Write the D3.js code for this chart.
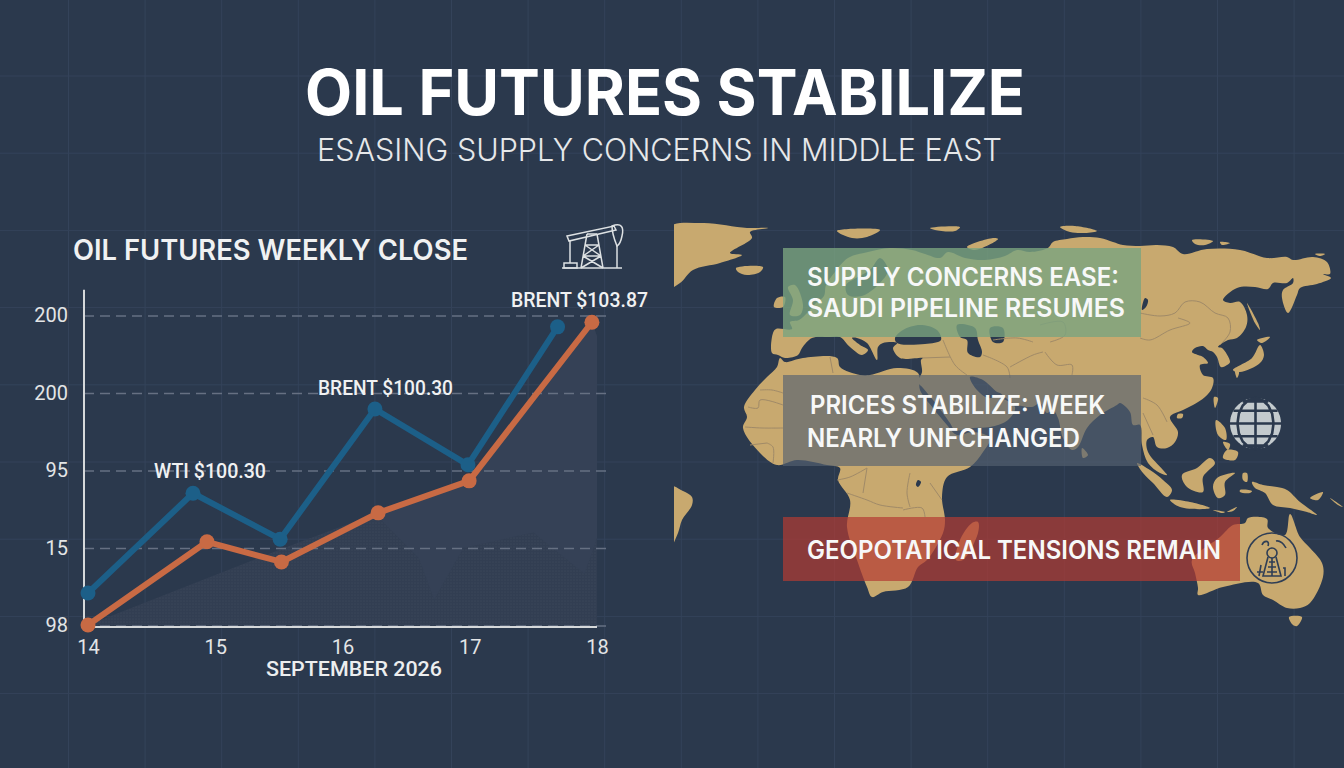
<!DOCTYPE html>
<html>
<head>
<meta charset="utf-8">
<style>
  html, body { margin: 0; padding: 0; background: #2b394d; }
  svg { display: block; }
</style>
<script src="https://cdn.jsdelivr.net/npm/d3@7"></script>
</head>
<body>
<svg id="chart" width="1344" height="768"></svg>
<script>
'use strict'

// chart data
const dayTicks = [14, 15, 16, 17, 18]
const priceTicks = [98, 99.5, 101, 102.5, 104]
const priceTickLabels = ['98', '15', '95', '200', '200']

const wtiDays = [14, 14.825, 15.51, 16.255, 16.986, 17.69]
const wtiPrices = [98.63, 100.56, 99.67, 102.19, 101.11, 103.78]
const brentDays = [14, 14.935, 15.52, 16.28, 16.995, 17.96]
const brentPrices = [98.01, 99.62, 99.23, 100.18, 100.8, 103.87]

const shadeDays = [14, 15.52, 16.28, 16.995, 17.96, 18]
const shadePrices = [98.01, 99.48, 100.18, 100.8, 103.87, 103.6]

// lighter band inside the shade: top edge and bottom edge
const bandDays = [16.28, 16.6, 16.72, 16.95, 17.5, 17.9, 17.96, 18]
const bandTops = [100.18, 100.45, 100.55, 100.73, 102.3, 103.6, 103.87, 103.6]
const bandBottoms = [100.1, 99.3, 98.5, 99.5, 99.8, 99, 99.4, 99.7]

const priceNotes = [
  { text: 'WTI $100.30', day: 14.825, price: 100.56 },
  { text: 'BRENT $100.30', day: 16.255, price: 102.19 },
  { text: 'BRENT $103.87', day: 17.96, price: 103.87 }
]

// map outlines, already projected onto the page
const landRings = [
  // eurasia
  [[773,333],[776,329],[792,329],[790,322],[799,320],[808,312],[816,303],[824,296],[826,285],[835,272],[848,258],[868,252],[890,248],[912,250],[925,254],[940,258],[948,252],[965,258],[985,260],[1005,256],[1017,250],[1030,252],[1048,248],[1053,242],[1067,239],[1083,237],[1100,238],[1113,242],[1123,245],[1140,246],[1157,245],[1173,247],[1183,254],[1207,249],[1240,250],[1267,258],[1287,257],[1293,260],[1313,257],[1327,262],[1330,274],[1323,274],[1331,278],[1317,284],[1300,288],[1297,295],[1288,313],[1282,298],[1283,290],[1293,283],[1293,278],[1287,283],[1273,283],[1268,289],[1255,287],[1237,288],[1223,300],[1230,303],[1240,302],[1247,315],[1246,327],[1237,338],[1228,340],[1218,347],[1222,348],[1230,362],[1227,365],[1221,367],[1217,357],[1213,352],[1208,350],[1203,346],[1195,348],[1192,352],[1198,355],[1203,357],[1208,363],[1200,365],[1203,375],[1213,378],[1212,388],[1205,397],[1193,405],[1183,410],[1170,417],[1178,432],[1175,442],[1167,448],[1157,447],[1153,437],[1147,440],[1148,452],[1163,470],[1167,475],[1160,473],[1148,463],[1142,445],[1140,425],[1133,425],[1130,412],[1120,403],[1117,405],[1100,415],[1087,428],[1078,447],[1072,450],[1063,438],[1058,418],[1053,410],[1047,413],[1040,403],[1032,407],[1013,403],[1000,393],[997,392],[983,380],[970,377],[977,390],[988,398],[997,397],[1015,407],[1008,420],[990,427],[973,428],[955,430],[950,423],[937,405],[923,388],[918,382],[922,372],[921,360],[923,358],[900,358],[893,348],[897,343],[883,343],[878,347],[877,360],[867,343],[857,338],[852,338],[860,345],[868,350],[862,355],[850,347],[840,337],[830,337],[812,338],[802,348],[798,355],[785,358],[778,355],[772,353]],
  // africa
  [[780,358],[785,362],[803,358],[837,358],[840,367],[860,375],[870,375],[897,368],[918,373],[920,390],[933,408],[947,425],[957,435],[973,432],[990,438],[983,452],[970,467],[947,477],[942,497],[945,520],[943,533],[927,560],[918,567],[908,587],[883,592],[872,597],[867,587],[857,560],[847,527],[850,500],[838,480],[840,468],[827,465],[797,460],[777,465],[760,453],[743,428],[747,417],[744,407],[755,390],[767,377],[777,367]],
  // madagascar, south america
  [[972,523],[978,522],[978,533],[963,560],[956,560],[960,540]],
  [[668,486],[683,491],[692,497],[692,505],[682,520],[678,533],[668,552]],
  // greenland, iceland, british isles
  [[668,228],[703,223],[747,228],[768,228],[750,232],[752,238],[730,253],[742,255],[720,263],[693,270],[680,283],[668,288]],
  [[736,268],[763,267],[760,272],[747,275],[738,272]],
  [[774,307],[777,298],[785,297],[783,307]],
  [[788,287],[795,285],[803,305],[800,315],[790,315],[793,300]],
  // arctic islands
  [[837,231],[880,230],[867,237],[852,238]],
  [[930,228],[960,227],[955,231],[935,230]],
  [[967,247],[993,238],[998,239],[975,250]],
  [[1060,227],[1075,226],[1097,231],[1085,233],[1070,232]],
  [[1192,240],[1213,241],[1205,245],[1195,244]],
  [[1220,242],[1230,243],[1222,245]],
  [[1315,254],[1325,254],[1320,256]],
  // east asia islands
  [[1247,303],[1258,323],[1260,330],[1255,323]],
  [[1257,340],[1270,337],[1262,343]],
  [[1260,345],[1264,355],[1260,363],[1240,372],[1233,370],[1252,358]],
  [[1235,370],[1239,372],[1237,378]],
  [[1214,397],[1218,398],[1215,408]],
  [[1178,414],[1183,414],[1182,418],[1177,418]],
  [[1082,448],[1088,455],[1083,458]],
  [[1216,420],[1225,428],[1226,440],[1218,435]],
  [[1227,450],[1238,452],[1235,460],[1223,458]],
  [[1223,442],[1230,444],[1228,450]],
  // indonesia and new guinea
  [[1137,463],[1150,470],[1163,480],[1172,490],[1167,497],[1153,483],[1143,473]],
  [[1210,458],[1215,463],[1203,477],[1203,492],[1187,487],[1182,475],[1197,468]],
  [[1217,478],[1235,473],[1225,482],[1225,495],[1218,498],[1213,487]],
  [[1170,500],[1190,502],[1210,508],[1205,509],[1180,507]],
  [[1213,510],[1225,512],[1222,513]],
  [[1227,512],[1237,507],[1233,511]],
  [[1243,473],[1247,473],[1247,482],[1243,480]],
  [[1240,490],[1252,491],[1250,493],[1240,492]],
  [[1252,482],[1263,485],[1277,487],[1287,490],[1300,502],[1317,515],[1307,512],[1290,508],[1273,505],[1265,493],[1255,488]],
  [[1310,498],[1323,492],[1318,500]],
  [[1330,498],[1343,507],[1338,505]],
  // australia, tasmania
  [[1195,573],[1192,560],[1220,537],[1233,525],[1245,523],[1248,518],[1267,519],[1268,528],[1285,535],[1290,514],[1300,537],[1310,548],[1322,563],[1323,577],[1310,603],[1300,608],[1287,608],[1273,600],[1263,595],[1258,583],[1223,587],[1198,595],[1198,588]],
  [[1289,617],[1302,617],[1297,626],[1293,625]]
]

const seaRings = [
  [[903,330],[920,325],[937,330],[941,340],[925,344],[897,343],[895,338]],
  [[957,325],[975,328],[978,340],[982,352],[980,357],[968,353],[967,340],[960,337]],
  [[990,328],[1003,328],[1003,342],[993,342]],
  [[846,285],[856,278],[870,270],[880,258],[888,270],[878,285],[862,296],[848,295]],
  [[1145,298],[1148,300],[1146,307],[1142,310]],
  [[918,480],[921,482],[918,487],[916,485]]
]

const borderLines = [
  [[830,357],[833,373]], [[760,390],[772,390],[783,393]], [[748,407],[758,408],[760,400],[783,405]],
  [[745,427],[762,428],[783,428]], [[767,443],[773,447],[773,463]], [[750,445],[767,443]],
  [[837,480],[850,477],[867,468]], [[847,493],[867,500],[880,505],[903,508]], [[903,510],[922,508],[925,517]],
  [[910,473],[907,493],[910,507]], [[930,483],[942,500]], [[867,468],[863,493]],
  [[943,340],[955,365],[967,375]], [[983,355],[1007,367],[1010,378]], [[1010,367],[1033,355],[1043,352]],
  [[1045,352],[1057,365],[1072,365],[1072,375]], [[1143,398],[1157,405],[1167,422]], [[1143,413],[1153,435]],
  [[922,358],[950,357]], [[1040,325],[1063,322],[1065,335],[1050,342]], [[993,340],[1017,338],[1033,342]],
  [[1140,313],[1160,316],[1175,313],[1185,302],[1200,302],[1215,313],[1228,318],[1230,332],[1220,345]],
  [[1140,338],[1150,340],[1170,330],[1190,323],[1178,318]]
]

const callouts = [
  { lines: ['SUPPLY CONCERNS EASE:', 'SAUDI PIPELINE RESUMES'], fill: '#7aa47f', opacity: 0.8, x: 783, y: 248, w: 358, h: 89,
    textX: [807, 807], textW: [312, 318], base: [286, 317] },
  { lines: ['PRICES STABILIZE: WEEK', 'NEARLY UNFCHANGED'], fill: '#556170', opacity: 0.65, x: 783, y: 375, w: 358, h: 91,
    textX: [810, 807], textW: [295, 273], base: [414, 447] },
  { lines: ['GEOPOTATICAL TENSIONS REMAIN'], fill: '#b33a32', opacity: 0.7, x: 783, y: 517, w: 457, h: 64,
    textX: [807], textW: [414], base: [559] }
]

const svg = d3.select('#chart')

function putText (parent, str, x, baseline, len, size, weight, family, fill) {
  return parent.append('text')
    .attr('x', x)
    .attr('y', baseline)
    .attr('textLength', len)
    .attr('lengthAdjust', 'spacingAndGlyphs')
    .attr('font-size', size)
    .attr('font-weight', weight)
    .attr('font-family', family)
    .attr('fill', fill)
    .text(str)
}

// background with its faint grid
svg.append('rect').attr('width', 1344).attr('height', 768).attr('fill', '#2b394d')

const bgGrid = svg.append('g').attr('stroke', '#34435a').attr('stroke-width', 1)
d3.range(68.5, 1344, 76.6).forEach(x => {
  bgGrid.append('line').attr('x1', x).attr('x2', x).attr('y1', 0).attr('y2', 768)
})
d3.range(76, 768, 77.2).forEach(y => {
  bgGrid.append('line').attr('x1', 0).attr('x2', 1344).attr('y1', y).attr('y2', y)
})

// headline
const INTER = 'Inter, sans-serif'
const ROBOTO = 'Roboto, sans-serif'
putText(svg, 'OIL FUTURES STABILIZE', 305, 115, 720, 63, 700, INTER, '#ffffff')
putText(svg, 'ESASING SUPPLY CONCERNS IN MIDDLE EAST', 317, 161, 685, 31, 300, INTER, '#e6e8ea')
putText(svg, 'OIL FUTURES WEEKLY CLOSE', 73, 260, 395, 28, 600, INTER, '#f0f1f2')

// line chart
const x = d3.scaleLinear().domain([14, 18]).range([88, 597])
const y = d3.scaleLinear().domain([98, 104]).range([625.5, 315.5])

const defs = svg.append('defs')
const dots = defs.append('pattern')
  .attr('id', 'shade-dots')
  .attr('width', 3)
  .attr('height', 3)
  .attr('patternUnits', 'userSpaceOnUse')
dots.append('rect').attr('width', 3).attr('height', 3).attr('fill', '#323e52')
dots.append('circle').attr('cx', 1).attr('cy', 1).attr('r', 0.5).attr('fill', '#434e61')
defs.append('clipPath')
  .attr('id', 'map-clip')
  .append('rect')
  .attr('x', 674).attr('y', 0)
  .attr('width', 670).attr('height', 768)

const shade = d3.area()
  .x((d, i) => x(shadeDays[i]))
  .y0(y(98))
  .y1(d => y(d))

svg.append('path')
  .datum(shadePrices)
  .attr('d', shade)
  .attr('fill', 'url(#shade-dots)')

const band = d3.area()
  .x((d, i) => x(bandDays[i]))
  .y0((d, i) => y(bandBottoms[i]))
  .y1(d => y(d))

svg.append('path')
  .datum(bandTops)
  .attr('d', band)
  .attr('fill', '#354156')

const yAxis = d3.axisLeft(y)
  .tickValues(priceTicks)
  .tickFormat((d, i) => priceTickLabels[i])
  .tickSize(-528)
  .tickPadding(16)

const yAxisG = svg.append('g')
  .attr('transform', 'translate(84,0)')
  .call(yAxis)
yAxisG.select('.domain').remove()
yAxisG.selectAll('line')
  .attr('stroke', '#667082')
  .attr('stroke-width', 1.6)
  .attr('stroke-dasharray', '10 6')
yAxisG.selectAll('text')
  .attr('font-size', 20)
  .attr('font-family', ROBOTO)
  .attr('fill', '#e3e5e6')

const xAxis = d3.axisBottom(x)
  .tickValues(dayTicks)
  .tickFormat(d => String(d))
  .tickSize(0)
  .tickPadding(13)

const xAxisG = svg.append('g')
  .attr('transform', 'translate(0,627)')
  .call(xAxis)
xAxisG.select('.domain').remove()
xAxisG.selectAll('text')
  .attr('font-size', 20)
  .attr('font-family', ROBOTO)
  .attr('fill', '#e3e5e6')

svg.append('line')
  .attr('x1', 84).attr('x2', 84)
  .attr('y1', y(104.5)).attr('y2', y(97.97))
  .attr('stroke', '#d5d8da').attr('stroke-width', 2)
svg.append('line')
  .attr('x1', 84).attr('x2', x(18))
  .attr('y1', y(97.97)).attr('y2', y(97.97))
  .attr('stroke', '#d5d8da').attr('stroke-width', 2)

putText(svg, 'SEPTEMBER 2026', 266, 676, 176, 21, 500, ROBOTO, '#eceeef')

function drawSeries (days, prices, color) {
  const line = d3.line()
    .x((d, i) => x(days[i]))
    .y(d => y(d))
  svg.append('path')
    .datum(prices)
    .attr('d', line)
    .attr('fill', 'none')
    .attr('stroke', color)
    .attr('stroke-width', 6)
    .attr('stroke-linejoin', 'round')
  svg.append('g')
    .selectAll('circle')
    .data(prices)
    .join('circle')
    .attr('cx', (d, i) => x(days[i]))
    .attr('cy', d => y(d))
    .attr('r', 7.5)
    .attr('fill', color)
}

drawSeries(wtiDays, wtiPrices, '#1c5f88')
drawSeries(brentDays, brentPrices, '#c86a44')

const noteWidths = [112, 135, 137]
const noteLefts = [154, 318, 511]
const noteBases = [478, 395, 307]
priceNotes.forEach((n, i) => {
  putText(svg, n.text, noteLefts[i], noteBases[i], noteWidths[i], 20, 500, ROBOTO, '#f0f1f2')
})

// pump jack icon
const pump = svg.append('g')
  .attr('fill', 'none')
  .attr('stroke', '#dde1e3')
  .attr('stroke-width', 1.5)
pump.append('path').attr('d', 'M562 268H622')
pump.append('path').attr('d', 'M567 236L614 226L616 230L569 241Z')
pump.append('path').attr('d', 'M570 241V263M564 263H577V268H564Z')
pump.append('path').attr('d', 'M612 226C622 222 624 228 622 236C621 241 619 245 617 246C615 241 612 234 612 226Z')
pump.append('path').attr('d', 'M617 246V268')
pump.append('path').attr('d', 'M587 234L581 268M597 234L603 268M587 234H597M585 245H599M583 256H601M585 245L601 256M599 245L583 256M583 256L603 268M601 256L581 268')

// world map, outlines rounded off so the coasts do not look cut with a ruler
const ringLine = d3.line().curve(d3.curveCatmullRomClosed.alpha(0.5))
const borderLine = d3.line().curve(d3.curveCatmullRom.alpha(0.5))
const mapG = svg.append('g').attr('clip-path', 'url(#map-clip)')

mapG.append('g')
  .selectAll('path')
  .data(landRings)
  .join('path')
  .attr('d', ringLine)
  .attr('fill', '#c8a96f')
mapG.append('g')
  .selectAll('path')
  .data(seaRings)
  .join('path')
  .attr('d', ringLine)
  .attr('fill', '#2b394d')
mapG.append('g')
  .selectAll('path')
  .data(borderLines)
  .join('path')
  .attr('d', borderLine)
  .attr('fill', 'none')
  .attr('stroke', '#a08a68')
  .attr('stroke-width', 1)

// globe icon
const globe = d3.geoOrthographic().scale(25.5).translate([1255.5, 423.5]).clipAngle(90)
const globePath = d3.geoPath(globe)
svg.append('path').datum({ type: 'Sphere' }).attr('d', globePath).attr('fill', '#c3cacd')
svg.append('path')
  .datum(d3.geoGraticule().step([45, 30]).extent([[-180, -90], [180, 90]])())
  .attr('d', globePath)
  .attr('fill', 'none')
  .attr('stroke', '#2b394d')
  .attr('stroke-width', 2.6)

// badge on australia
const badge = svg.append('g')
  .attr('fill', 'none')
  .attr('stroke', '#2f3e55')
  .attr('stroke-width', 1.6)
badge.append('circle').attr('cx', 1272).attr('cy', 558).attr('r', 25)
badge.append('circle').attr('cx', 1272).attr('cy', 553).attr('r', 5)
badge.append('path').attr('d', 'M1268 557L1263 576H1281L1276 557M1272 558V576M1269 562H1275M1268 567H1276M1267 572H1277')
badge.append('path').attr('d', 'M1259 576L1261 565M1257 572H1263M1283 568H1285V576')
badge.append('path').attr('d', 'M1262 545C1264 540 1270 540 1268 546M1276 541C1280 540 1284 544 1286 548')

// callout boxes
callouts.forEach(c => {
  svg.append('rect')
    .attr('x', c.x).attr('y', c.y)
    .attr('width', c.w).attr('height', c.h)
    .attr('fill', c.fill)
    .attr('fill-opacity', c.opacity)
  c.lines.forEach((t, i) => {
    putText(svg, t, c.textX[i], c.base[i], c.textW[i], 25, 600, INTER, '#f7f8f8')
  })
})
</script>
</body>
</html>
